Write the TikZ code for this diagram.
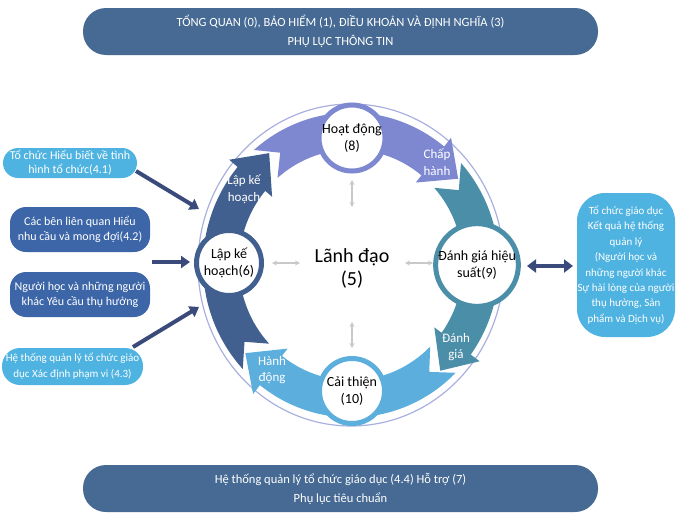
\documentclass[tikz,border=0pt]{standalone}
\usepackage{fontspec}
\setmainfont{Carlito}
\usetikzlibrary{arrows.meta}
\definecolor{banner}{HTML}{466A93}
\definecolor{darkseg}{HTML}{42608F}
\definecolor{periseg}{HTML}{7D88D1}
\definecolor{tealseg}{HTML}{4B8EA7}
\definecolor{lightseg}{HTML}{5CAEDC}
\definecolor{boxlight}{HTML}{4FB3E1}
\definecolor{boxdark}{HTML}{3D66A8}
\definecolor{navyarrow}{HTML}{3A4A7A}
\definecolor{ringline}{HTML}{A9B0E0}
\definecolor{greyarr}{HTML}{C9C9C9}
\newcommand{\seg}[3]{% colour, tail angle, head angle (math angles)
  \fill[#1] ({-(#2)}:148) arc[start angle={-(#2)}, end angle={-(#3)}, radius=148]
    -- ({-(#3)}:159) -- ({-((#3)-13)}:136) -- ({-(#3)}:103) -- ({-(#3)}:112)
    arc[start angle={-(#3)}, end angle={-(#2)}, radius=112]
    -- ({-((#2)-8)}:130) -- cycle;}
\begin{document}
\begin{tikzpicture}[x=1pt,y=-1pt,
  bannerbox/.style={fill=banner, text=white, minimum width=515pt, minimum height=47pt,
    rounded corners=23pt, align=center, font=\fontsize{12.5}{19}\selectfont},
  leftbox/.style={text=white, minimum width=#1, align=center, inner sep=0pt,
    font=\fontsize{12}{15}\selectfont},
  cyc/.style={circle, fill=white, line width=5pt, minimum size=65pt, inner sep=0pt,
    align=center, font=\fontsize{14}{17}\selectfont},
  bandlabel/.style={text=white, align=center, font=\fontsize{13}{16.5}\selectfont},
  feedarrow/.style={draw=navyarrow, line width=4pt, -{Triangle[length=9pt,width=12pt]}},
  greydbl/.style={draw=greyarr, line width=1.3pt, {Stealth[length=5pt,width=5pt]}-{Stealth[length=5pt,width=5pt]}}
]
\useasboundingbox (0,0) rectangle (680,522);

% banners
\node[bannerbox] (top) at (340.5,31.5) {TỔNG QUAN (0), BẢO HIỂM (1), ĐIỀU KHOẢN VÀ ĐỊNH NGHĨA (3)\\PHỤ LỤC THÔNG TIN};
\node[bannerbox] (bot) at (340.5,488.5) {Hệ thống quản lý tổ chức giáo dục (4.4) Hỗ trợ (7)\\Phụ lục tiêu chuẩn};

% outline ring
\draw[ringline, line width=1.2pt] (351,265) ellipse[x radius=153, y radius=161];

% cycle segments
\begin{scope}[shift={(351,265)}, yscale=1.03]
  \seg{darkseg}{223}{140}
  \seg{periseg}{131}{51}
  \seg{tealseg}{42}{-36}
  \seg{lightseg}{-45}{-128}
\end{scope}

% band labels
\node[bandlabel] (l1) at (244,189) {Lập kế\\hoạch};
\node[bandlabel] (l2) at (437,162) {Chấp\\hành};
\node[bandlabel] (l3) at (456,347) {Đánh\\giá};
\node[bandlabel] (l4) at (272,370) {Hành\\động};

% cycle nodes
\node[cyc, draw=periseg] (n8) at (352,138) {Hoạt động\\(8)};
\node[cyc, draw=darkseg] (n6) at (229,263) {Lập kế\\hoạch(6)};
\node[cyc, draw=tealseg] (n9) at (477,265) {Đánh giá hiệu\\suất(9)};
\node[cyc, draw=lightseg] (n10) at (352,391) {Cải thiện\\(10)};

% centre
\node[align=center, font=\fontsize{20}{23}\selectfont] (c5) at (352,268) {Lãnh đạo\\(5)};
\draw[greydbl] (272,263) -- (300,263);
\draw[greydbl] (405,263) -- (433,263);
\draw[greydbl] (352,180) -- (352,207);
\draw[greydbl] (352,322) -- (352,348);

% left boxes
\node[leftbox=134pt, fill=boxlight, minimum height=30pt, rounded corners=15pt, font=\fontsize{12}{14}\selectfont] (b1) at (70,163) {Tổ chức Hiểu biết về tình\\hình tổ chức(4.1)};
\node[leftbox=140pt, fill=boxdark, minimum height=45pt, rounded corners=16pt] (b2) at (80,229.5) {Các bên liên quan Hiểu\\nhu cầu và mong đợi(4.2)};
\node[leftbox=140pt, fill=boxdark, minimum height=45pt, rounded corners=16pt] (b3) at (80,294.5) {Người học và những người\\khác Yêu cầu thụ hưởng};
\node[leftbox=141pt, fill=boxlight, minimum height=37pt, rounded corners=18pt, font=\fontsize{11}{16}\selectfont] (b4) at (72.5,366.5) {Hệ thống quản lý tổ chức giáo\\dục Xác định phạm vi (4.3)};

% feed arrows
\coordinate (a1s) at (136,171);
\coordinate (a1e) at (199,209);
\coordinate (a2s) at (152,262);
\coordinate (a2e) at (190,262);
\coordinate (a3s) at (133,347);
\coordinate (a3e) at (199,307);
\draw[feedarrow] (a1s) -- (a1e);
\draw[feedarrow] (a2s) -- (a2e);
\draw[feedarrow] (a3s) -- (a3e);

% right box
\node[fill=boxlight, text=white, minimum width=98pt, minimum height=144pt, rounded corners=28pt,
  align=center, inner sep=0pt, font=\fontsize{11}{15.4}\selectfont] (rb) at (626,265)
  {Tổ chức giáo dục\\Kết quả hệ thống\\quản lý\\(Người học và\\những người khác\\Sự hài lòng của người\\thụ hưởng, Sản\\phẩm và Dịch vụ)};
\coordinate (r1) at (527,266);
\coordinate (r2) at (573,266);
\draw[draw=navyarrow, line width=4pt, {Triangle[length=9pt,width=13pt]}-{Triangle[length=9pt,width=13pt]}] (r1) -- (r2);
\end{tikzpicture}
\end{document}
